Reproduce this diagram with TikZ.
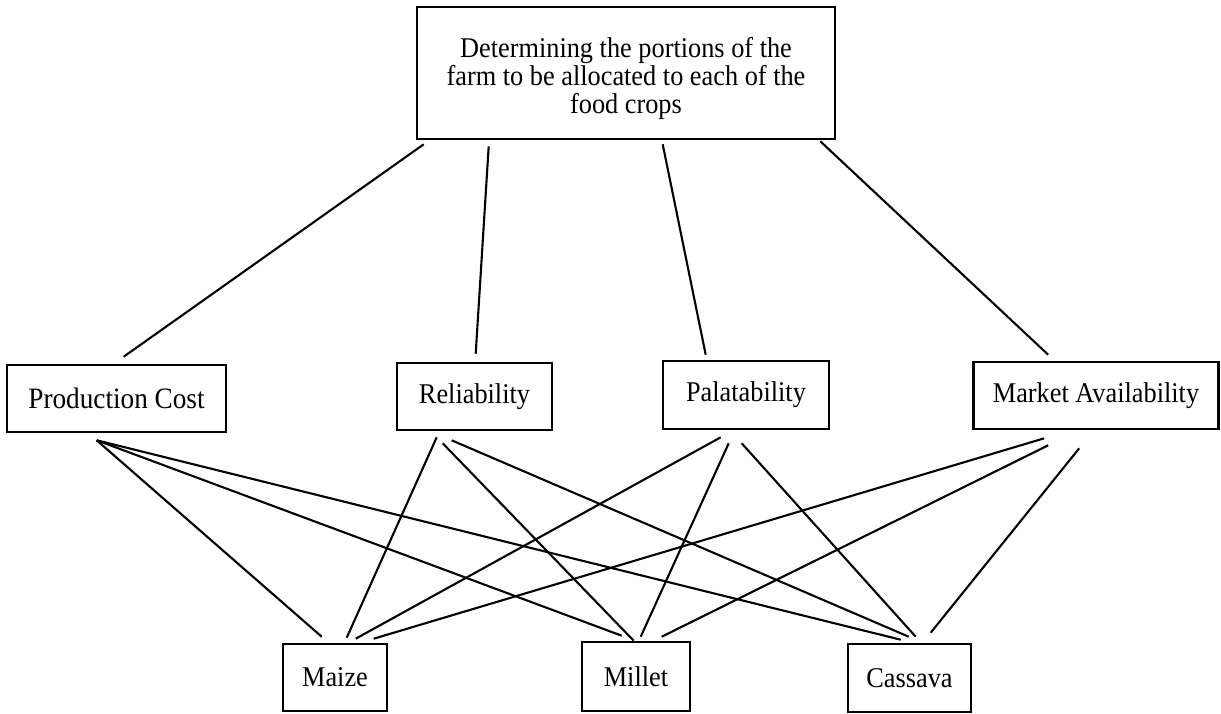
\documentclass[tikz,border=0pt]{standalone}
\usepackage{fontspec}
\setmainfont{Liberation Serif}[FakeStretch=0.92]
\begin{document}
\begin{tikzpicture}[x=1pt,y=-1pt,
  box/.style={draw, line width=2.6pt, inner sep=0pt,
    font=\fontsize{28.6}{29}\selectfont},
  link/.style={line width=2.1pt}]
\useasboundingbox (0,0) rectangle (1221,713);

% goal
\node[box, minimum width=418pt, minimum height=132pt] (goal) at (626,73)
  {\raisebox{-7pt}[\height][\depth]{\begin{tabular}{@{}c@{}}Determining the portions of the\\[-1pt]farm to be allocated to each of the\\[-1pt]food crops\end{tabular}}};

% criteria
\node[box, minimum width=219pt, minimum height=67pt, font=\fontsize{29.6}{30}\selectfont] (cost) at (116.5,398.5) {Production Cost};
\node[box, minimum width=155pt, minimum height=67pt] (rel)    at (474.5,396.5) {Reliability};
\node[box, minimum width=166pt, minimum height=68pt] (pal)    at (746,395)     {Palatability};
\node[box, minimum width=245pt, minimum height=67pt] (market) at (1096,395.5)  {Market Availability};

% alternatives
\node[box, minimum width=104pt, minimum height=67pt] (maize)   at (335,677.5) {Maize};
\node[box, minimum width=108pt, minimum height=69pt] (millet)  at (636,676.5) {Millet};
\node[box, minimum width=123pt, minimum height=68pt] (cassava) at (909.5,678) {Cassava};

% goal to criteria
\draw[link] ([shift={(8,4)}]goal.south west)   -- ([shift={(118,-7)}]cost.north west);
\draw[link] ([shift={(73,6)}]goal.south west)  -- ([shift={(80,-8)}]rel.north west);
\draw[link] ([shift={(247,4)}]goal.south west) -- ([shift={(44,-5)}]pal.north west);
\draw[link] ([shift={(-16,1)}]goal.south east) -- ([shift={(76,-6)}]market.north west);

% production cost to crops
\draw[link] ([shift={(91,7)}]cost.south west) -- ([shift={(40,-6)}]maize.north west);
\draw[link] ([shift={(91,7)}]cost.south west) -- ([shift={(41,-5)}]millet.north west);
\draw[link] ([shift={(91,7)}]cost.south west) -- ([shift={(54,-3)}]cassava.north west);

% reliability to crops
\draw[link] ([shift={(41,6)}]rel.south west)  -- ([shift={(65,-5)}]maize.north west);
\draw[link] ([shift={(47,12)}]rel.south west) -- ([shift={(53,0)}]millet.north west);
\draw[link] ([shift={(56,9)}]rel.south west)  -- ([shift={(62,-6)}]cassava.north west);

% palatability to crops
\draw[link] ([shift={(59,7)}]pal.south west)  -- ([shift={(74,-4)}]maize.north west);
\draw[link] ([shift={(67,13)}]pal.south west) -- ([shift={(60,-4)}]millet.north west);
\draw[link] ([shift={(80,13)}]pal.south west) -- ([shift={(69,-6)}]cassava.north west);

% market availability to crops
\draw[link] ([shift={(72,8)}]market.south west)   -- ([shift={(92,-4)}]maize.north west);
\draw[link] ([shift={(76,15)}]market.south west)  -- ([shift={(81,-4)}]millet.north west);
\draw[link] ([shift={(107,18)}]market.south west) -- ([shift={(84,-10)}]cassava.north west);
\end{tikzpicture}
\end{document}
